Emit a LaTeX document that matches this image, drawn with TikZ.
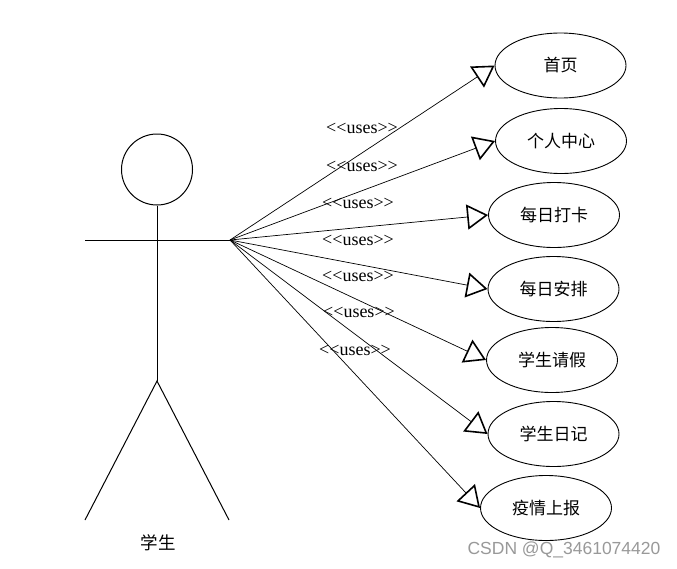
\documentclass[tikz,border=0pt]{standalone}
\usepackage{fontspec}
\usetikzlibrary{shapes.geometric,arrows.meta}
\newfontfamily\cjk{Noto Sans CJK SC}
\newfontfamily\lat{Liberation Serif}
\newfontfamily\wmfont{Liberation Sans}
\tikzset{
  usecase/.style={draw,ellipse,line width=0.9pt,minimum width=131pt,minimum height=65pt,inner sep=0pt,font=\cjk\fontsize{17}{19}\selectfont},
  body/.style={line width=1pt},
  uses/.style={line width=0.7pt,-{Triangle[open,length=21pt,width=25pt,line width=1.6pt]}},
  usestext/.style={font=\lat\fontsize{18}{20}\selectfont,inner sep=0pt}
}
\begin{document}
\begin{tikzpicture}[x=1pt,y=-1pt]
\useasboundingbox[fill=white] (0,0) rectangle (677,568);
% actor
\node[draw,circle,line width=1pt,minimum size=71pt,inner sep=0pt] (head) at (157,169.5) {};
\coordinate (hip) at (157,381);
\coordinate (lh) at (85,240);
\coordinate (rh) at (230,240);
\coordinate (lf) at (85,520);
\coordinate (rf) at (229,520);
\draw[body] (head.south) -- (hip);
\draw[body] (lh) -- (rh);
\draw[body] (lf) -- (hip) -- (rf);
\node[font=\cjk\fontsize{17.5}{19}\selectfont] (actor) at (158,543) {学生};
% use cases
\node[usecase] (u1) at (560.5,65.5) {首页};
\node[usecase] (u2) at (561,141) {个人中心};
\node[usecase] (u3) at (554,215) {每日打卡};
\node[usecase] (u4) at (553.5,289) {每日安排};
\node[usecase] (u5) at (552,360) {学生请假};
\node[usecase] (u6) at (553.5,434) {学生日记};
\node[usecase] (u7) at (546,508) {疫情上报};
\foreach \i in {1,...,7}{\draw[uses] (rh) -- (u\i.west);}
% labels
\node[usestext] (l1) at (362,128) {<<uses>>};
\node[usestext] (l2) at (362,166) {<<uses>>};
\node[usestext] (l3) at (358,203) {<<uses>>};
\node[usestext] (l4) at (358,240) {<<uses>>};
\node[usestext] (l5) at (358,276) {<<uses>>};
\node[usestext] (l6) at (359,312) {<<uses>>};
\node[usestext] (l7) at (355,350) {<<uses>>};
% watermark
\node[font=\wmfont\fontsize{17.5}{19}\selectfont,text=black!40,inner sep=0pt] (wm) at (564,550) {CSDN @Q\_3461074420};
\end{tikzpicture}
\end{document}
